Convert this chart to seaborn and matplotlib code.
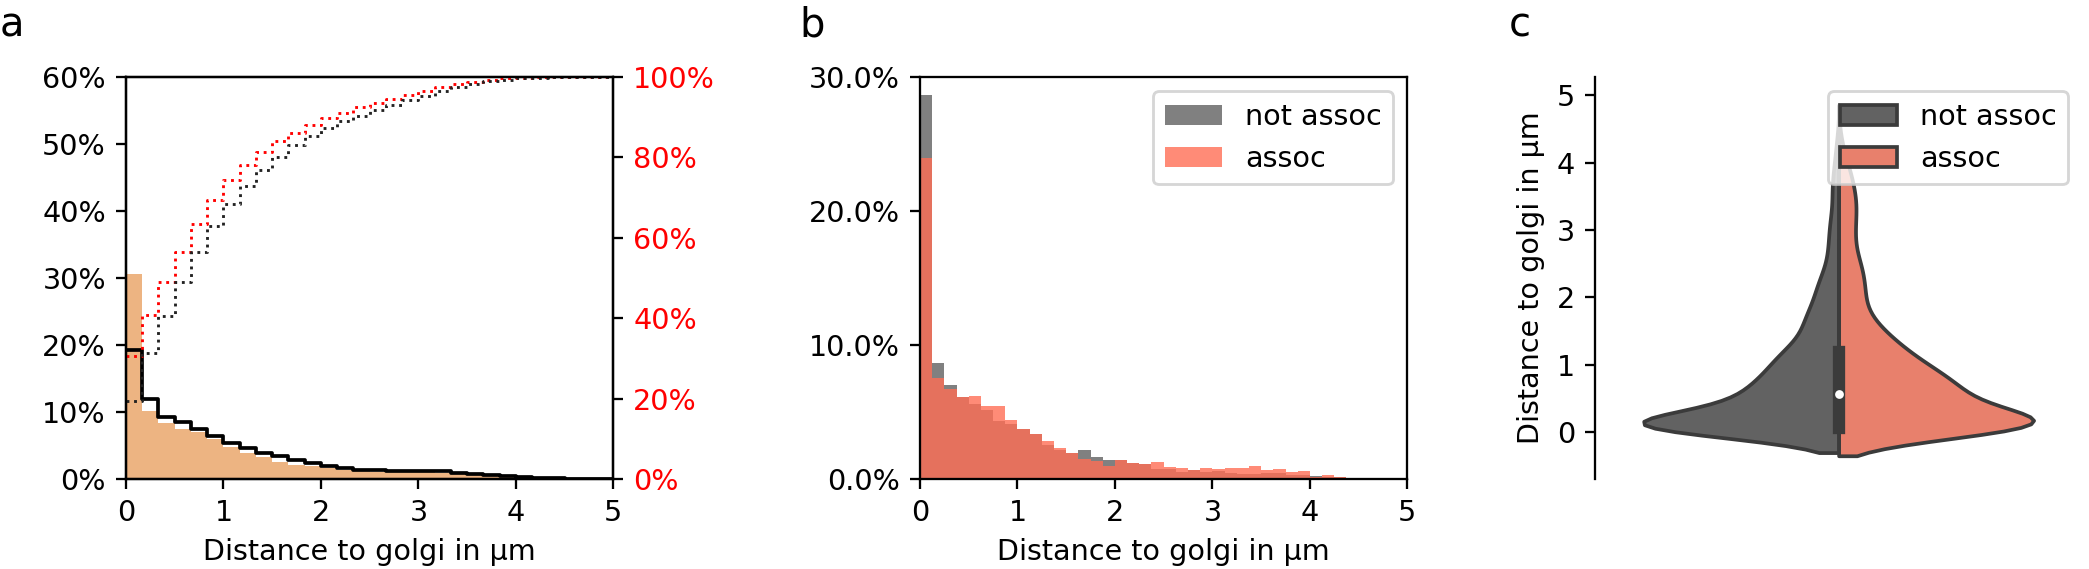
import numpy as np
import pandas as pd
import matplotlib
matplotlib.use("Agg")
import matplotlib.pyplot as plt
from matplotlib.ticker import PercentFormatter
import seaborn as sns

# panel a: share of distances per bin (30 bins, 0-5 um), in percent
bins_a = np.linspace(0, 5, 31)
filled_pct = [30.3, 10.1, 8.3, 7.4, 6.9, 5.9, 4.8, 3.9, 3.2, 2.5,
              2.1, 1.9, 1.7, 1.4, 1.3, 1.1, 1.0, 1.0, 1.0, 0.85,
              0.8, 0.65, 0.45, 0.3, 0.2, 0.1, 0.05, 0.02, 0.0, 0.0]
outline_pct = [19.1, 11.8, 9.2, 8.35, 7.45, 6.35, 5.35, 4.55, 3.85, 3.35,
               2.8, 2.3, 1.95, 1.6, 1.4, 1.3, 1.25, 1.2, 1.2, 1.15,
               0.95, 0.8, 0.6, 0.4, 0.3, 0.2, 0.1, 0.05, 0.02, 0.0]

# panel b: 40 bins, 0-5 um, in percent
bins_b = np.linspace(0, 5, 41)
not_assoc_pct = [28.66, 8.68, 6.99, 6.15, 5.60, 5.17, 4.35, 4.10, 3.73, 3.33,
                 2.54, 2.14, 1.97, 2.14, 1.67, 1.39, 1.39, 1.19, 1.09, 0.72,
                 0.72, 0.55, 0.65, 0.50, 0.62, 0.47, 0.35, 0.35, 0.42, 0.42,
                 0.30, 0.30, 0.20, 0.17, 0.15, 0.07, 0.0, 0.0, 0.0, 0.0]
assoc_pct = [23.98, 7.51, 6.72, 6.10, 6.22, 5.47, 5.47, 4.40, 3.70, 3.33,
             2.84, 2.29, 1.97, 1.47, 1.34, 1.00, 1.39, 1.19, 1.09, 1.27,
             0.90, 0.80, 0.65, 0.80, 0.72, 0.82, 0.82, 0.97, 0.65, 0.75,
             0.55, 0.60, 0.18, 0.27, 0.15, 0.07, 0.0, 0.0, 0.0, 0.0]

# number of measurements per group (panel c)
group_size = {"not assoc": 2000, "assoc": 1480}

groups = ["not assoc", "assoc"]
hist_colors = {"not assoc": "gray", "assoc": "#ff6e55"}
violin_colors = {"not assoc": "#626262", "assoc": "#e8806c"}
xlabel = "Distance to golgi in µm"

df_a = pd.DataFrame({"mid": (bins_a[:-1] + bins_a[1:]) / 2,
                     "filled": filled_pct, "outline": outline_pct})
mid_b = (bins_b[:-1] + bins_b[1:]) / 2
df_b = pd.DataFrame({"mid": mid_b, "not assoc": not_assoc_pct, "assoc": assoc_pct})
edges_a = list(bins_a)
edges_b = list(bins_b)

W, H, DPI = 2089, 569, 206
fig = plt.figure(figsize=(W / DPI, H / DPI), dpi=DPI)

# ---- a ----
ax = fig.add_axes([0.0603, 0.1582, 0.2333, 0.7065])
sns.histplot(data=df_a, x="mid", weights="filled", bins=edges_a, stat="percent",
             color="#edb482", alpha=1, linewidth=0, ax=ax)
sns.histplot(data=df_a, x="mid", weights="outline", bins=edges_a, stat="percent",
             element="step", fill=False, color="black", linewidth=1.3, ax=ax)
ax.set_ylim(0, 60)
ax.yaxis.set_major_formatter(PercentFormatter(decimals=0))
ax.set_ylabel("")
ax.set_xlabel(xlabel)

ax2 = ax.twinx()
sns.histplot(data=df_a, x="mid", weights="filled", bins=edges_a, stat="percent",
             cumulative=True, element="step", fill=False, color="red",
             linestyle=":", linewidth=1.0, ax=ax2)
sns.histplot(data=df_a, x="mid", weights="outline", bins=edges_a, stat="percent",
             cumulative=True, element="step", fill=False, color="#222222",
             linestyle=":", linewidth=1.0, ax=ax2)
ax2.set_ylim(0, 100)
ax2.set_yticks(range(0, 101, 20))
ax2.yaxis.set_major_formatter(PercentFormatter(decimals=0))
ax2.tick_params(axis="y", labelcolor="red")
ax2.set_ylabel("")
ax.set_xlim(0, 5)

# ---- b ----
axb = fig.add_axes([0.4404, 0.1582, 0.2333, 0.7065])
for g, a in zip(groups, [1, 0.8]):
    sns.histplot(data=df_b, x="mid", weights=g, bins=edges_b, stat="count",
                 color=hist_colors[g], alpha=a, linewidth=0, label=g, ax=axb)
axb.set_xlim(0, 5)
axb.set_ylim(0, 30)
axb.set_yticks([0, 10, 20, 30])
axb.yaxis.set_major_formatter(PercentFormatter(decimals=1))
axb.set_ylabel("")
axb.set_xlabel(xlabel)
axb.legend(loc="upper right")

# ---- c ----
# observations rebuilt from the panel b histograms
dist, grp = [], []
for g in groups:
    n = np.round(df_b[g].to_numpy() / 100 * group_size[g]).astype(int)
    vals = np.repeat(mid_b, n)
    dist.append(vals)
    grp += [g] * len(vals)
df_c = pd.DataFrame({"dist": np.concatenate(dist), "group": grp, "pos": ""})

axc = fig.add_axes([0.7635, 0.1582, 0.2333, 0.7065])
sns.violinplot(data=df_c, x="pos", y="dist", hue="group", hue_order=groups, split=True,
               palette=violin_colors, saturation=1, inner=None, bw_method=0.21,
               density_norm="count", linewidth=1.3, linecolor="#3b3b3b", ax=axc)
# box of all observations on the centre line
sns.violinplot(data=df_c, x="pos", y="dist", fill=False, linewidth=0, color="#3b3b3b",
               saturation=1, inner="box",
               inner_kws=dict(box_width=4.3, whis_width=1.4, marker="o", markersize=2.2),
               ax=axc)
axc.set_xlim(-0.5, 0.5)
axc.set_ylim(-0.7, 5.27)
axc.set_xticks([])
axc.set_xlabel("")
axc.set_ylabel(xlabel)
sns.despine(ax=axc, bottom=True)
sns.move_legend(axc, "upper right", title=None)

for letter, xpos in [("a", 0.0), ("b", 0.3825), ("c", 0.7224)]:
    fig.text(xpos, 0.9355, letter, fontsize=14, va="baseline")

fig.savefig("out.png", dpi=DPI)
